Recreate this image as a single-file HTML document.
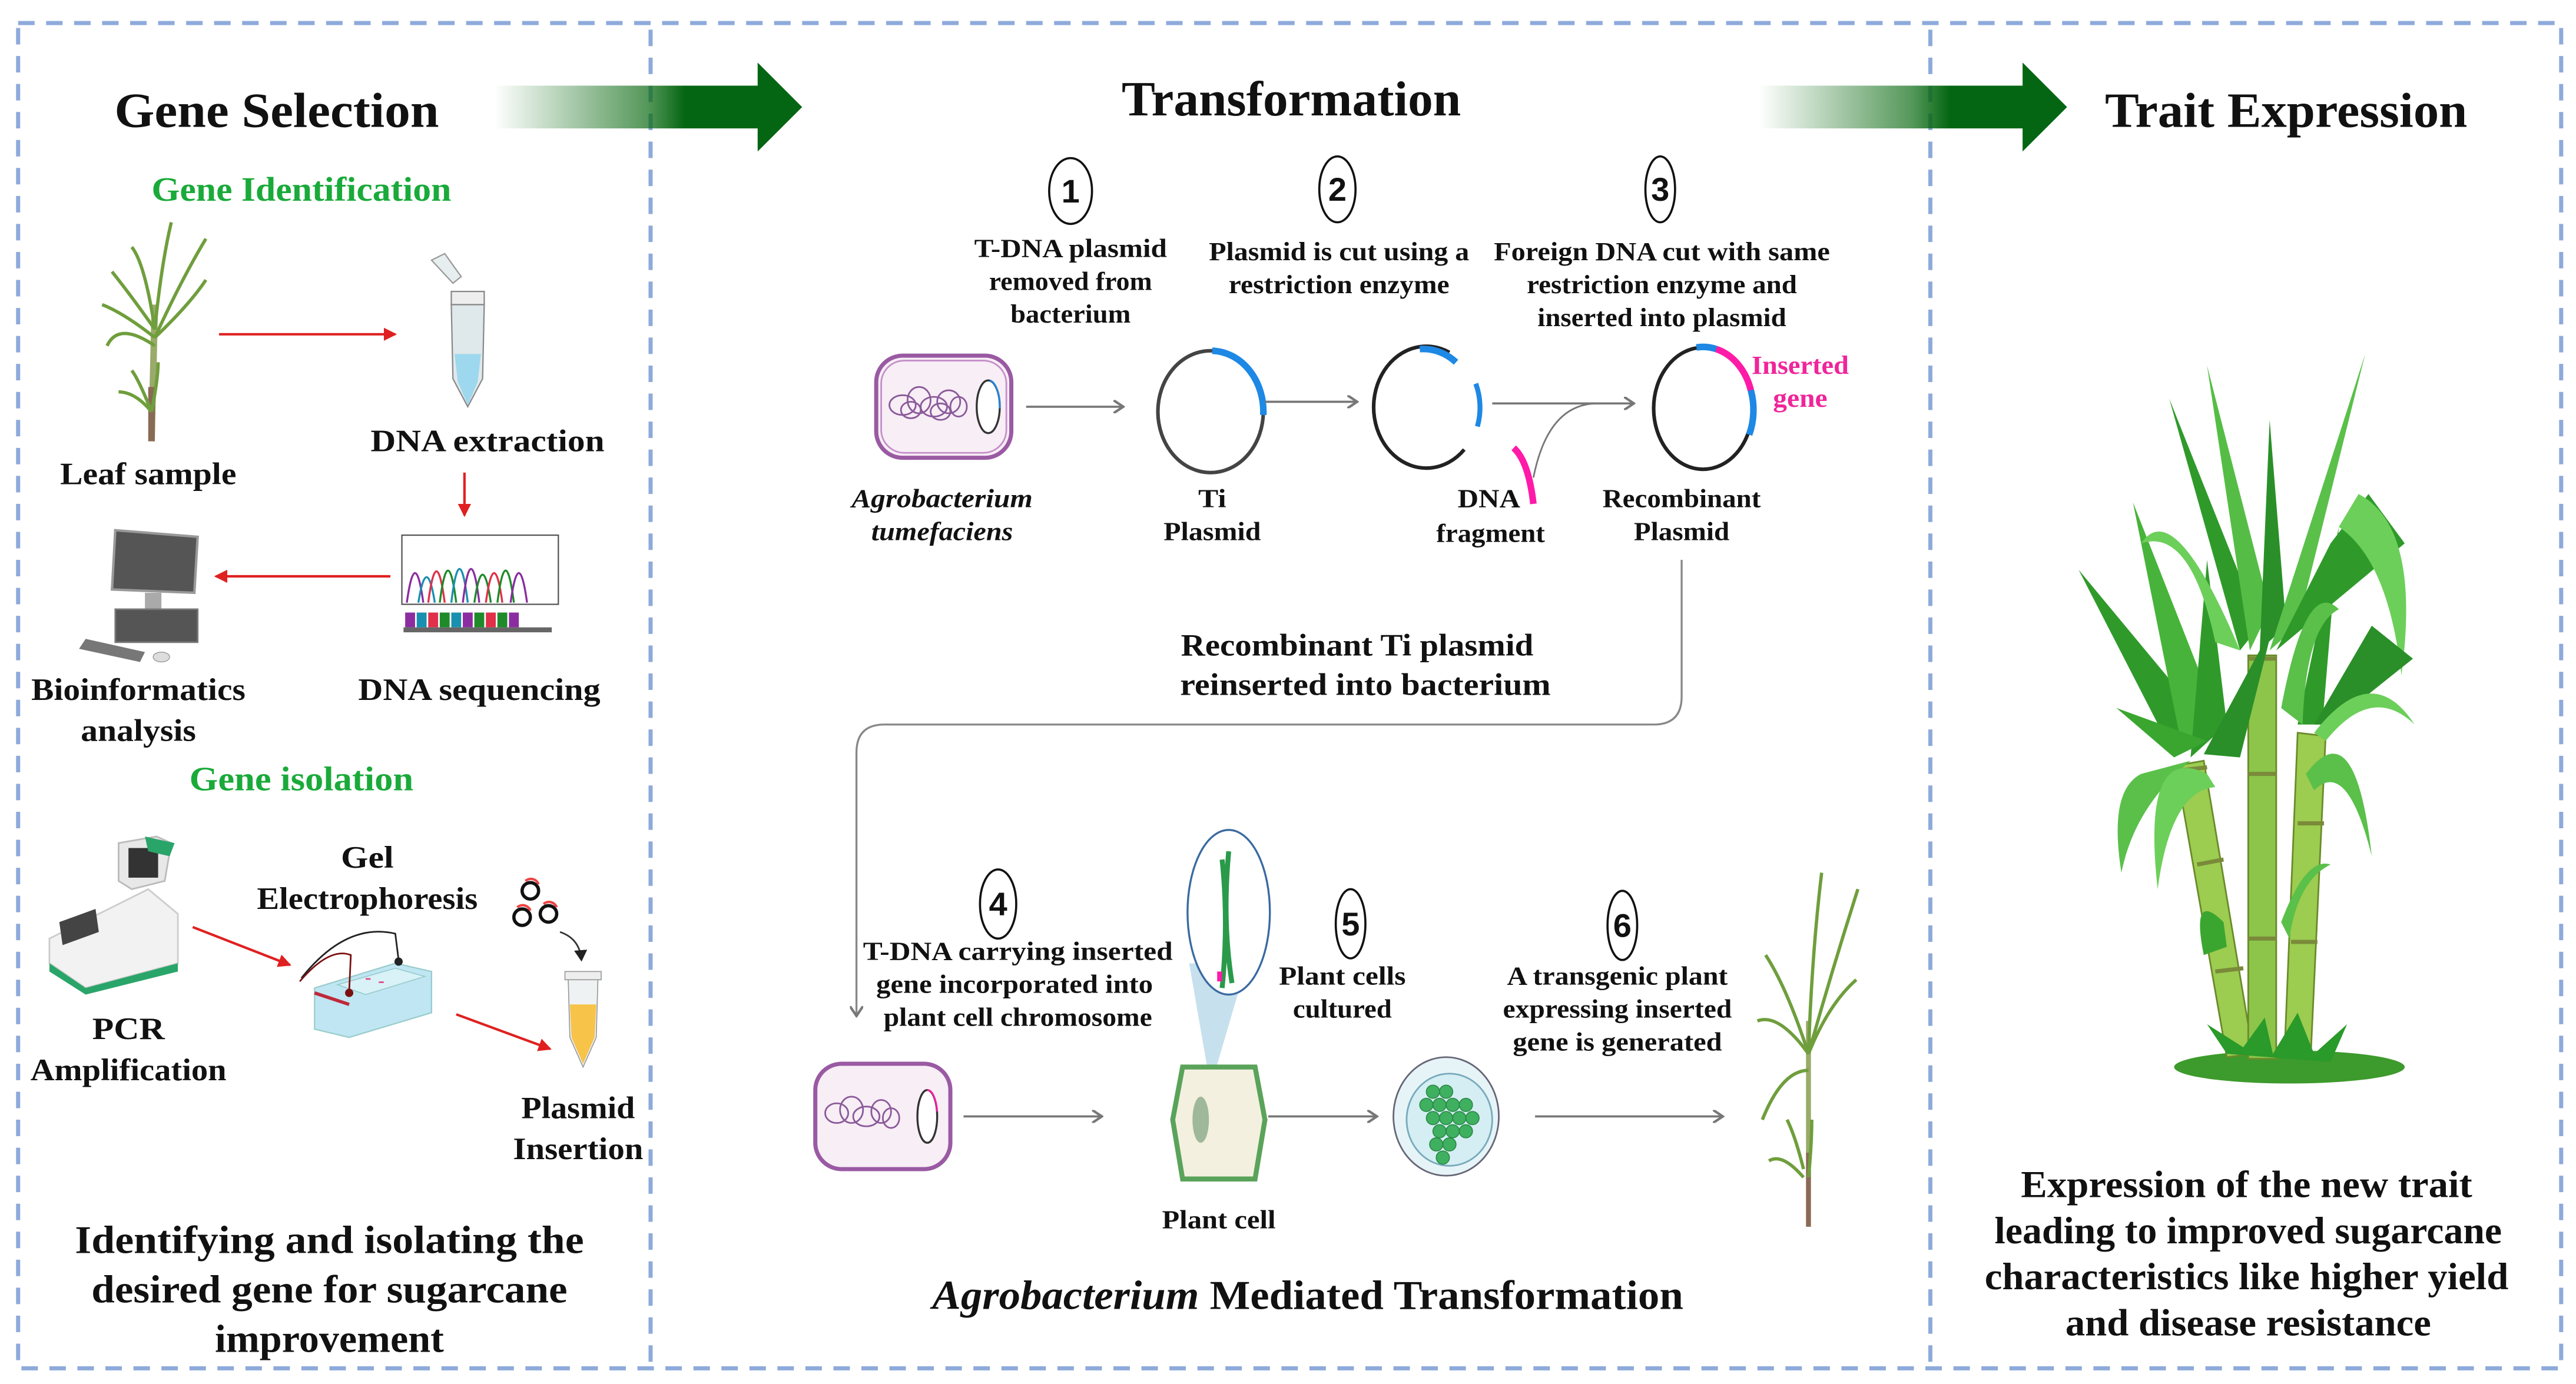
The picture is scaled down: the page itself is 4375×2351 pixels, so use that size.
<!DOCTYPE html>
<html><head><meta charset="utf-8"><style>
html,body{margin:0;padding:0;background:#fff;}
svg{display:block;}
text{font-family:"Liberation Serif",serif;font-weight:bold;fill:#111;}
.s{font-family:"Liberation Sans",sans-serif;}
</style></head><body>
<svg width="4375" height="2351" viewBox="0 0 1564 840.5" preserveAspectRatio="none" xmlns="http://www.w3.org/2000/svg">
<defs>
<linearGradient id="ag" x1="0" x2="1" y1="0" y2="0">
<stop offset="0" stop-color="#0b6a12" stop-opacity="0"/>
<stop offset="0.5" stop-color="#0b6a12" stop-opacity="0.7"/>
<stop offset="0.62" stop-color="#046612"/>
<stop offset="1" stop-color="#046612"/>
</linearGradient>
<marker id="ra" markerWidth="8" markerHeight="8" refX="7" refY="4" orient="auto" markerUnits="userSpaceOnUse"><path d="M0,0 L8,4 L0,8 Z" fill="#e02020"/></marker>
<marker id="ga" markerWidth="7" markerHeight="8" refX="6" refY="4" orient="auto" markerUnits="userSpaceOnUse"><path d="M0,0 L6,4 L0,8" fill="none" stroke="#777" stroke-width="1.5"/></marker>
<marker id="ka" markerWidth="8" markerHeight="8" refX="6" refY="4" orient="auto" markerUnits="userSpaceOnUse"><path d="M0,0 L7,4 L0,8 Z" fill="#222"/></marker>
</defs>

<!-- dashed frames -->
<g fill="none" stroke="#8eaadb" stroke-width="2.5" stroke-dasharray="10,7">
<rect x="11" y="14" width="1544" height="817"/>
<line x1="395" y1="18" x2="395" y2="828"/>
<line x1="1172" y1="18" x2="1172" y2="828"/>
</g>

<!-- big arrows -->
<path d="M300,52 H460 V38 L487,65 L460,92 V78 H300 Z" fill="url(#ag)"/>
<path d="M1068,52 H1228 V38 L1255,65 L1228,92 V78 H1068 Z" fill="url(#ag)"/>

<!-- titles -->
<text x="168" y="77" font-size="30" text-anchor="middle" textLength="197" lengthAdjust="spacingAndGlyphs">Gene Selection</text>
<text x="784" y="70" font-size="30" text-anchor="middle" textLength="206" lengthAdjust="spacingAndGlyphs">Transformation</text>
<text x="1388" y="77" font-size="30" text-anchor="middle" textLength="220" lengthAdjust="spacingAndGlyphs">Trait Expression</text>

<!-- LEFT PANEL -->
<text x="183" y="122" font-size="21" text-anchor="middle" style="fill:#1aaa3a" textLength="182" lengthAdjust="spacingAndGlyphs">Gene Identification</text>
<!-- leaf plant -->
<g fill="none" stroke="#6f9e3c" stroke-width="2">
<line x1="94" y1="185" x2="92" y2="268" stroke="#9aaa6a" stroke-width="4"/>
<line x1="92" y1="235" x2="92" y2="268" stroke="#8a6a55" stroke-width="4"/>
<path d="M94,200 Q88,160 80,150"/><path d="M94,200 Q98,160 104,135"/><path d="M94,205 Q110,170 125,145"/>
<path d="M94,200 Q80,180 68,165"/><path d="M94,205 Q75,190 62,185"/><path d="M94,205 Q115,185 125,170"/>
<path d="M94,210 Q72,195 65,210"/><path d="M92,250 Q84,230 80,225"/><path d="M92,250 Q82,238 72,238"/><path d="M92,250 Q96,230 96,220"/>
</g>
<!-- tube -->
<g>
<rect x="274" y="177" width="20" height="8" fill="#eee" stroke="#888" stroke-width="0.8"/>
<path d="M274,185 H294 L293,230 L284,247 L275,230 Z" fill="#dfe8ea" stroke="#888" stroke-width="0.8"/>
<path d="M276,215 H292 L290,232 L284,246 L278,232 Z" fill="#9dd8ef"/>
<path d="M262,158 L270,154 L280,168 L275,172 Z" fill="#e6eef0" stroke="#999" stroke-width="0.8"/>
</g>
<line x1="133" y1="203" x2="240" y2="203" stroke="#e02020" stroke-width="1.5" marker-end="url(#ra)"/>
<text x="90" y="294" font-size="19" text-anchor="middle" textLength="107" lengthAdjust="spacingAndGlyphs">Leaf sample</text>
<text x="296" y="274" font-size="19" text-anchor="middle" textLength="142" lengthAdjust="spacingAndGlyphs">DNA extraction</text>
<line x1="282" y1="287" x2="282" y2="313" stroke="#e02020" stroke-width="1.5" marker-end="url(#ra)"/>
<!-- sequencing -->
<rect x="244" y="325" width="95" height="42" fill="#fff" stroke="#555" stroke-width="0.8"/>
<g fill="none" stroke-width="1.2">
<path d="M247,366 Q252,330 257,366" stroke="#8b2da0"/><path d="M254,366 Q259,335 264,366" stroke="#1a90b0"/>
<path d="M260,366 Q265,328 270,366" stroke="#e0304a"/><path d="M267,366 Q272,327 277,366" stroke="#1f8a2a"/>
<path d="M274,366 Q279,325 284,366" stroke="#1a90b0"/><path d="M281,366 Q286,325 291,366" stroke="#8b2da0"/>
<path d="M288,366 Q293,332 298,366" stroke="#1f8a2a"/><path d="M295,366 Q300,330 305,366" stroke="#e0304a"/>
<path d="M302,366 Q307,327 312,366" stroke="#1f8a2a"/><path d="M310,366 Q315,330 320,366" stroke="#8b2da0"/>
</g>
<g>
<rect x="246" y="372" width="6" height="9" fill="#8b2da0"/><rect x="253" y="372" width="6" height="9" fill="#1a90b0"/>
<rect x="260" y="372" width="6" height="9" fill="#e0304a"/><rect x="267" y="372" width="6" height="9" fill="#1f8a2a"/>
<rect x="274" y="372" width="6" height="9" fill="#1a90b0"/><rect x="281" y="372" width="6" height="9" fill="#8b2da0"/>
<rect x="288" y="372" width="6" height="9" fill="#1f8a2a"/><rect x="295" y="372" width="6" height="9" fill="#e0304a"/>
<rect x="302" y="372" width="6" height="9" fill="#1f8a2a"/><rect x="309" y="372" width="6" height="9" fill="#8b2da0"/>
<rect x="245" y="381" width="90" height="3" fill="#666"/>
</g>
<line x1="237" y1="350" x2="131" y2="350" stroke="#e02020" stroke-width="1.5" marker-end="url(#ra)"/>
<!-- computer -->
<g>
<path d="M70,322 L120,326 L118,360 L68,358 Z" fill="#555" stroke="#999" stroke-width="1.5"/>
<rect x="88" y="360" width="10" height="10" fill="#aaa"/>
<rect x="70" y="370" width="50" height="20" fill="#555" stroke="#777"/>
<path d="M52,388 L88,396 L85,402 L48,394 Z" fill="#777"/>
<ellipse cx="98" cy="399" rx="5" ry="3" fill="#ddd" stroke="#999" stroke-width="0.5"/>
</g>
<text x="84" y="425" font-size="19" text-anchor="middle" textLength="130" lengthAdjust="spacingAndGlyphs">Bioinformatics</text>
<text x="84" y="450" font-size="19" text-anchor="middle" textLength="70" lengthAdjust="spacingAndGlyphs">analysis</text>
<text x="291" y="425" font-size="19" text-anchor="middle" textLength="147" lengthAdjust="spacingAndGlyphs">DNA sequencing</text>
<text x="183" y="480" font-size="21" text-anchor="middle" style="fill:#1aaa3a" textLength="136" lengthAdjust="spacingAndGlyphs">Gene isolation</text>
<!-- PCR machine -->
<g>
<path d="M30,570 L90,540 L108,555 L108,585 L52,600 L30,585 Z" fill="#f2f2f2" stroke="#ccc"/>
<path d="M36,560 L58,552 L60,566 L38,574 Z" fill="#444"/>
<path d="M72,512 L95,508 L104,512 L100,535 L80,540 L72,535 Z" fill="#e8e8e8" stroke="#bbb"/>
<rect x="78" y="515" width="18" height="18" fill="#333"/>
<path d="M88,508 L106,512 L103,520 L90,517 Z" fill="#2aa56a"/>
<path d="M30,585 L52,600 L108,585 L108,590 L52,604 L30,590 Z" fill="#2aa56a"/>
</g>
<text x="223" y="527" font-size="19" text-anchor="middle" textLength="32" lengthAdjust="spacingAndGlyphs">Gel</text>
<text x="223" y="552" font-size="19" text-anchor="middle" textLength="134" lengthAdjust="spacingAndGlyphs">Electrophoresis</text>
<line x1="117" y1="563" x2="176" y2="586" stroke="#e02020" stroke-width="1.5" marker-end="url(#ra)"/>
<!-- gel box -->
<g>
<path d="M191,600 L240,585 L262,590 L262,615 L212,630 L191,625 Z" fill="#bfe6f2" stroke="#9cc" stroke-width="0.8"/>
<path d="M205,598 L240,588 L258,593 L222,604 Z" fill="#d8f2f8" stroke="#9cc" stroke-width="0.6"/>
<line x1="191" y1="603" x2="212" y2="610" stroke="#c0283a" stroke-width="2"/>
<path d="M183,594 Q210,560 240,567 L242,583" fill="none" stroke="#222" stroke-width="1"/>
<path d="M182,596 Q200,575 213,580 L212,602" fill="none" stroke="#7a1010" stroke-width="1"/>
<circle cx="212" cy="603" r="2.5" fill="#7a1010"/><circle cx="242" cy="584" r="2.5" fill="#222"/>
<rect x="222" y="594" width="3" height="1" fill="#e04c8a"/><rect x="230" y="596" width="3" height="1" fill="#e04c8a"/>
</g>
<line x1="277" y1="616" x2="334" y2="637" stroke="#e02020" stroke-width="1.5" marker-end="url(#ra)"/>
<!-- plasmids -->
<g fill="none" stroke="#111" stroke-width="2">
<circle cx="322" cy="541" r="5"/><circle cx="317" cy="557" r="5"/><circle cx="333" cy="555" r="5"/>
</g>
<g fill="none" stroke="#e44" stroke-width="1.5"><path d="M319,535 A5,5 0 0 1 327,537"/><path d="M314,551 A5,5 0 0 1 322,553"/><path d="M330,549 A5,5 0 0 1 338,551"/></g>
<path d="M340,566 Q352,570 353,583" fill="none" stroke="#333" stroke-width="1" marker-end="url(#ka)"/>
<!-- yellow tube -->
<g>
<rect x="343" y="590" width="22" height="5" fill="#eee" stroke="#999" stroke-width="0.6"/>
<path d="M345,595 H363 L362,630 L354,648 L346,630 Z" fill="#eef2f3" stroke="#999" stroke-width="0.6"/>
<path d="M346,610 H362 L361,630 L354,646 L347,630 Z" fill="#f7c349"/>
</g>
<text x="78" y="631" font-size="19" text-anchor="middle" textLength="44" lengthAdjust="spacingAndGlyphs">PCR</text>
<text x="78" y="656" font-size="19" text-anchor="middle" textLength="119" lengthAdjust="spacingAndGlyphs">Amplification</text>
<text x="351" y="679" font-size="19" text-anchor="middle" textLength="69" lengthAdjust="spacingAndGlyphs">Plasmid</text>
<text x="351" y="704" font-size="19" text-anchor="middle" textLength="79" lengthAdjust="spacingAndGlyphs">Insertion</text>
<text x="200" y="761" font-size="24" text-anchor="middle" textLength="309" lengthAdjust="spacingAndGlyphs">Identifying and isolating the</text>
<text x="200" y="791" font-size="24" text-anchor="middle" textLength="289" lengthAdjust="spacingAndGlyphs">desired gene for sugarcane</text>
<text x="200" y="821" font-size="24" text-anchor="middle" textLength="139" lengthAdjust="spacingAndGlyphs">improvement</text>

<!-- MIDDLE PANEL -->
<g fill="#fff" stroke="#111" stroke-width="1.3">
<ellipse cx="650" cy="116" rx="13" ry="20"/><ellipse cx="812" cy="115" rx="11" ry="20"/><ellipse cx="1008" cy="115" rx="9" ry="20"/>
<ellipse cx="606" cy="549" rx="11" ry="21"/><ellipse cx="820" cy="561" rx="9" ry="21"/><ellipse cx="985" cy="562" rx="9" ry="21"/>
</g>
<g class="s" font-size="20" text-anchor="middle">
<text class="s" x="650" y="123" font-size="20" text-anchor="middle">1</text>
<text class="s" x="812" y="122" font-size="20" text-anchor="middle">2</text>
<text class="s" x="1008" y="122" font-size="20" text-anchor="middle">3</text>
<text class="s" x="606" y="556" font-size="20" text-anchor="middle">4</text>
<text class="s" x="820" y="568" font-size="20" text-anchor="middle">5</text>
<text class="s" x="985" y="569" font-size="20" text-anchor="middle">6</text>
</g>
<g font-size="16" text-anchor="middle">
<text x="650" y="156" font-size="16" text-anchor="middle" textLength="117" lengthAdjust="spacingAndGlyphs">T-DNA plasmid</text>
<text x="650" y="176" font-size="16" text-anchor="middle" textLength="99" lengthAdjust="spacingAndGlyphs">removed from</text>
<text x="650" y="196" font-size="16" text-anchor="middle" textLength="73" lengthAdjust="spacingAndGlyphs">bacterium</text>
<text x="813" y="158" font-size="16" text-anchor="middle" textLength="158" lengthAdjust="spacingAndGlyphs">Plasmid is cut using a</text>
<text x="813" y="178" font-size="16" text-anchor="middle" textLength="134" lengthAdjust="spacingAndGlyphs">restriction enzyme</text>
<text x="1009" y="158" font-size="16" text-anchor="middle" textLength="204" lengthAdjust="spacingAndGlyphs">Foreign DNA cut with same</text>
<text x="1009" y="178" font-size="16" text-anchor="middle" textLength="164" lengthAdjust="spacingAndGlyphs">restriction enzyme and</text>
<text x="1009" y="198" font-size="16" text-anchor="middle" textLength="151" lengthAdjust="spacingAndGlyphs">inserted into plasmid</text>
</g>
<!-- bacterium 1 -->
<rect x="532" y="216" width="82" height="62" rx="16" fill="#f8eef6" stroke="#9a5aa3" stroke-width="2.5"/>
<rect x="535" y="219" width="76" height="56" rx="14" fill="none" stroke="#c48fc9" stroke-width="1"/>
<g fill="none" stroke="#8a5a9a" stroke-width="1"><ellipse cx="548" cy="246" rx="8" ry="6"/><ellipse cx="558" cy="243" rx="7" ry="8"/><ellipse cx="567" cy="247" rx="8" ry="6"/><ellipse cx="576" cy="244" rx="7" ry="7"/><ellipse cx="553" cy="249" rx="6" ry="5"/><ellipse cx="571" cy="250" rx="6" ry="5"/><ellipse cx="582" cy="247" rx="5" ry="6"/></g>
<ellipse cx="600" cy="247" rx="7" ry="16" fill="#fff" stroke="#333" stroke-width="1.2"/>
<path d="M601,231 A7,16 0 0 1 607,248" fill="none" stroke="#1e88e5" stroke-width="1"/>
<!-- Ti plasmid -->
<ellipse cx="735" cy="250" rx="32" ry="37" fill="none" stroke="#444" stroke-width="2.2"/>
<path d="M736,213 A32,37 0 0 1 767,252" fill="none" stroke="#1e88e5" stroke-width="4"/>
<!-- cut plasmid -->
<path d="M889,273 A32,37 0 1 1 880,214" fill="none" stroke="#222" stroke-width="2.2"/>
<path d="M862,212 A32,37 0 0 1 884,220" fill="none" stroke="#1e88e5" stroke-width="4"/>
<path d="M896,233 A32,37 0 0 1 897,259" fill="none" stroke="#1e88e5" stroke-width="3"/>
<path d="M919,272 Q928,280 931,306" fill="none" stroke="#ff1aa8" stroke-width="4"/>
<!-- recombinant -->
<ellipse cx="1034" cy="248" rx="30" ry="37" fill="none" stroke="#222" stroke-width="2.2"/>
<path d="M1030,211 A30,37 0 0 1 1042,212" fill="none" stroke="#1e88e5" stroke-width="4"/>
<path d="M1042,212 A30,37 0 0 1 1063,237" fill="none" stroke="#ff1aa8" stroke-width="4"/>
<path d="M1063,237 A30,37 0 0 1 1062,264" fill="none" stroke="#1e88e5" stroke-width="4"/>
<!-- arrows -->
<line x1="623" y1="247" x2="682" y2="247" stroke="#777" stroke-width="1.3" marker-end="url(#ga)"/>
<line x1="768" y1="244" x2="824" y2="244" stroke="#777" stroke-width="1.3" marker-end="url(#ga)"/>
<line x1="906" y1="245" x2="992" y2="245" stroke="#777" stroke-width="1.3" marker-end="url(#ga)"/>
<path d="M931,290 Q940,245 970,245" fill="none" stroke="#777" stroke-width="1"/>
<text x="572" y="308" font-size="16" text-anchor="middle" font-style="italic" textLength="110" lengthAdjust="spacingAndGlyphs">Agrobacterium</text>
<text x="572" y="328" font-size="16" text-anchor="middle" font-style="italic" textLength="86" lengthAdjust="spacingAndGlyphs">tumefaciens</text>
<text x="736" y="308" font-size="16" text-anchor="middle" textLength="17" lengthAdjust="spacingAndGlyphs">Ti</text>
<text x="736" y="328" font-size="16" text-anchor="middle" textLength="59" lengthAdjust="spacingAndGlyphs">Plasmid</text>
<text x="904" y="308" font-size="16" text-anchor="middle" textLength="38" lengthAdjust="spacingAndGlyphs">DNA</text>
<text x="905" y="329" font-size="16" text-anchor="middle" textLength="66" lengthAdjust="spacingAndGlyphs">fragment</text>
<text x="1021" y="308" font-size="16" text-anchor="middle" textLength="96" lengthAdjust="spacingAndGlyphs">Recombinant</text>
<text x="1021" y="328" font-size="16" text-anchor="middle" textLength="58" lengthAdjust="spacingAndGlyphs">Plasmid</text>
<text x="1093" y="227" font-size="16" text-anchor="middle" style="fill:#f0259a" textLength="59" lengthAdjust="spacingAndGlyphs">Inserted</text>
<text x="1093" y="247" font-size="16" text-anchor="middle" style="fill:#f0259a" textLength="33" lengthAdjust="spacingAndGlyphs">gene</text>
<!-- connector -->
<path d="M1021,340 V423 Q1021,440 1004,440 H537 Q520,440 520,457 V617" fill="none" stroke="#888" stroke-width="1.2" marker-end="url(#ga)"/>
<text x="824" y="398" font-size="19" text-anchor="middle" textLength="214" lengthAdjust="spacingAndGlyphs">Recombinant Ti plasmid</text>
<text x="829" y="422" font-size="19" text-anchor="middle" textLength="225" lengthAdjust="spacingAndGlyphs">reinserted into  bacterium</text>
<!-- step 4-6 texts -->
<text x="618" y="583" font-size="16" text-anchor="middle" textLength="188" lengthAdjust="spacingAndGlyphs">T-DNA carrying  inserted</text>
<text x="616" y="603" font-size="16" text-anchor="middle" textLength="168" lengthAdjust="spacingAndGlyphs">gene  incorporated into</text>
<text x="618" y="623" font-size="16" text-anchor="middle" textLength="163" lengthAdjust="spacingAndGlyphs">plant cell chromosome</text>
<text x="815" y="598" font-size="16" text-anchor="middle" textLength="77" lengthAdjust="spacingAndGlyphs">Plant cells</text>
<text x="815" y="618" font-size="16" text-anchor="middle" textLength="60" lengthAdjust="spacingAndGlyphs">cultured</text>
<text x="982" y="598" font-size="16" text-anchor="middle" textLength="134" lengthAdjust="spacingAndGlyphs">A transgenic plant</text>
<text x="982" y="618" font-size="16" text-anchor="middle" textLength="139" lengthAdjust="spacingAndGlyphs">expressing inserted</text>
<text x="982" y="638" font-size="16" text-anchor="middle" textLength="127" lengthAdjust="spacingAndGlyphs">gene is generated</text>
<!-- bacterium 2 -->
<rect x="495" y="646" width="82" height="64" rx="16" fill="#f8eef6" stroke="#9a5aa3" stroke-width="2.5"/>
<g fill="none" stroke="#8a5a9a" stroke-width="1"><ellipse cx="508" cy="676" rx="7" ry="6"/><ellipse cx="517" cy="674" rx="7" ry="8"/><ellipse cx="526" cy="678" rx="8" ry="6"/><ellipse cx="535" cy="675" rx="6" ry="7"/><ellipse cx="541" cy="679" rx="5" ry="6"/></g>
<ellipse cx="563" cy="678" rx="6" ry="16" fill="#fff" stroke="#333" stroke-width="1.2"/>
<path d="M563,662 A6,16 0 0 1 569,675" fill="none" stroke="#ff1aa8" stroke-width="1"/>
<!-- chromosome + cone -->
<path d="M722,585 L757,585 L735,660 Z" fill="#b9d8e8" opacity="0.8"/>
<ellipse cx="746" cy="554" rx="25" ry="50" fill="#fff" stroke="#3a6aa0" stroke-width="1.2"/>
<path d="M742,522 Q746,560 742,600 M746,517 Q742,560 748,597" fill="none" stroke="#2a9a4a" stroke-width="3"/>
<rect x="739" y="590" width="3" height="6" fill="#ff1aa8"/>
<!-- plant cell -->
<path d="M718,648 L762,648 L768,680 L762,716 L718,716 L712,680 Z" fill="#f3f0e0" stroke="#5aa35a" stroke-width="3"/>
<ellipse cx="729" cy="680" rx="5" ry="14" fill="#9fb89a"/>
<!-- petri -->
<ellipse cx="878" cy="678" rx="32" ry="36" fill="#e6f4f8" stroke="#667" stroke-width="1"/>
<ellipse cx="880" cy="680" rx="26" ry="28" fill="#d5eef3" stroke="#7ab" stroke-width="1"/>
<g fill="#3fb060" stroke="#2a8a46" stroke-width="0.6">
<circle cx="870" cy="663" r="4"/><circle cx="878" cy="663" r="4"/><circle cx="866" cy="671" r="4"/><circle cx="874" cy="671" r="4"/><circle cx="882" cy="671" r="4"/><circle cx="890" cy="671" r="4"/>
<circle cx="870" cy="679" r="4"/><circle cx="878" cy="679" r="4"/><circle cx="886" cy="679" r="4"/><circle cx="894" cy="679" r="4"/><circle cx="874" cy="687" r="4"/><circle cx="882" cy="687" r="4"/><circle cx="890" cy="687" r="4"/><circle cx="872" cy="695" r="4"/><circle cx="880" cy="695" r="4"/><circle cx="876" cy="703" r="4"/>
</g>
<line x1="585" y1="678" x2="669" y2="678" stroke="#777" stroke-width="1.3" marker-end="url(#ga)"/>
<line x1="770" y1="678" x2="836" y2="678" stroke="#777" stroke-width="1.3" marker-end="url(#ga)"/>
<line x1="932" y1="678" x2="1046" y2="678" stroke="#777" stroke-width="1.3" marker-end="url(#ga)"/>
<!-- small cane -->
<g fill="none" stroke="#6f9e3c" stroke-width="2">
<line x1="1098" y1="620" x2="1098" y2="700" stroke="#9aaa6a" stroke-width="3"/>
<line x1="1098" y1="700" x2="1098" y2="745" stroke="#8a6a55" stroke-width="3"/>
<path d="M1098,640 Q1100,580 1106,530"/><path d="M1098,640 Q1112,590 1128,540"/><path d="M1098,640 Q1085,600 1072,580"/>
<path d="M1098,640 Q1080,615 1067,620"/><path d="M1098,640 Q1110,610 1127,595"/><path d="M1098,650 Q1082,650 1070,680"/>
<path d="M1095,710 Q1090,690 1085,680"/><path d="M1095,715 Q1082,700 1074,705"/><path d="M1098,715 Q1100,695 1100,680"/>
</g>
<text x="740" y="746" font-size="16" text-anchor="middle" textLength="69" lengthAdjust="spacingAndGlyphs">Plant cell</text>
<text x="794" y="795" font-size="25" text-anchor="middle" textLength="456" lengthAdjust="spacingAndGlyphs"><tspan font-style="italic">Agrobacterium</tspan> Mediated Transformation</text>

<!-- RIGHT: big sugarcane -->
<ellipse cx="1390" cy="648" rx="70" ry="10" fill="#3d9a2c"/>
<g stroke="#6a8a2a" stroke-width="1">
<path d="M1321,465 L1338,462 L1368,640 L1352,642 Z" fill="#9ccc50"/>
<rect x="1365" y="398" width="17" height="245" fill="#8cc54a"/>
<path d="M1395,445 L1412,447 L1403,640 L1387,640 Z" fill="#9ccc50"/>
</g>
<g stroke="#7a8a3a" stroke-width="2.5" fill="none">
<line x1="1322" y1="468" x2="1340" y2="466"/><line x1="1334" y1="525" x2="1350" y2="522"/><line x1="1345" y1="590" x2="1362" y2="588"/>
<line x1="1365" y1="400" x2="1382" y2="400"/><line x1="1365" y1="470" x2="1382" y2="470"/><line x1="1365" y1="570" x2="1382" y2="570"/>
<line x1="1395" y1="500" x2="1411" y2="500"/><line x1="1391" y1="572" x2="1407" y2="572"/>
</g>
<g fill="#2f9a2a">
<path d="M1318,455 L1262,346 L1340,440 Z"/><path d="M1325,455 L1295,305 L1348,440 Z" fill="#47b33a"/>
<path d="M1330,460 L1340,340 L1352,440 Z"/><path d="M1320,460 L1285,430 L1340,450 Z" fill="#3aa630"/>
<path d="M1300,470 Q1280,480 1288,530 Q1296,490 1330,462 Z" fill="#5ac04a"/>
<path d="M1338,458 L1380,380 L1360,460 Z" fill="#2a8f28"/>
<path d="M1360,395 L1317,242 L1372,380 Z"/><path d="M1366,395 L1340,222 L1378,370 Z" fill="#55bd45"/>
<path d="M1372,395 L1378,255 L1388,380 Z" fill="#2a8f28"/><path d="M1378,395 L1436,215 L1395,380 Z" fill="#5ac04a"/>
<path d="M1382,395 L1415,330 L1438,300 L1460,330 L1400,380 Z" fill="#2f9a2a"/>
<path d="M1432,300 Q1470,320 1458,410 Q1450,340 1420,320 Z" fill="#6ccf5a"/>
<path d="M1360,395 Q1320,300 1300,330 Q1330,320 1345,390 Z" fill="#6ccf5a"/>
<path d="M1395,440 L1420,320 L1410,440 Z" fill="#2f9a2a"/><path d="M1405,440 L1440,380 L1465,400 L1415,440 Z" fill="#2a8f28"/>
<path d="M1405,445 Q1440,400 1466,440 Q1440,415 1412,450 Z" fill="#6ccf5a"/>
<path d="M1385,430 Q1400,350 1420,370 Q1400,380 1398,440 Z" fill="#5ac04a"/>
<path d="M1400,470 Q1430,430 1440,520 Q1425,460 1405,480 Z" fill="#5ac04a"/>
<path d="M1340,470 Q1300,450 1310,540 Q1318,480 1345,478 Z" fill="#6ccf5a"/>
<path d="M1350,560 Q1330,540 1338,580 L1352,575 Z" fill="#3aa630"/>
<path d="M1385,560 Q1400,520 1415,525 Q1395,535 1390,570 Z" fill="#5ac04a"/>
<path d="M1352,640 L1340,622 L1362,636 L1375,618 L1380,640 L1395,615 L1405,640 L1425,622 L1415,645 Z" fill="#2a9a2a"/>
</g>
<text x="1364" y="727" font-size="23" text-anchor="middle" textLength="274" lengthAdjust="spacingAndGlyphs">Expression of the new trait</text>
<text x="1365" y="755" font-size="23" text-anchor="middle" textLength="308" lengthAdjust="spacingAndGlyphs">leading to improved sugarcane</text>
<text x="1364" y="783" font-size="23" text-anchor="middle" textLength="318" lengthAdjust="spacingAndGlyphs">characteristics like higher yield</text>
<text x="1365" y="811" font-size="23" text-anchor="middle" textLength="222" lengthAdjust="spacingAndGlyphs">and disease resistance</text>
</svg>
</body></html>
